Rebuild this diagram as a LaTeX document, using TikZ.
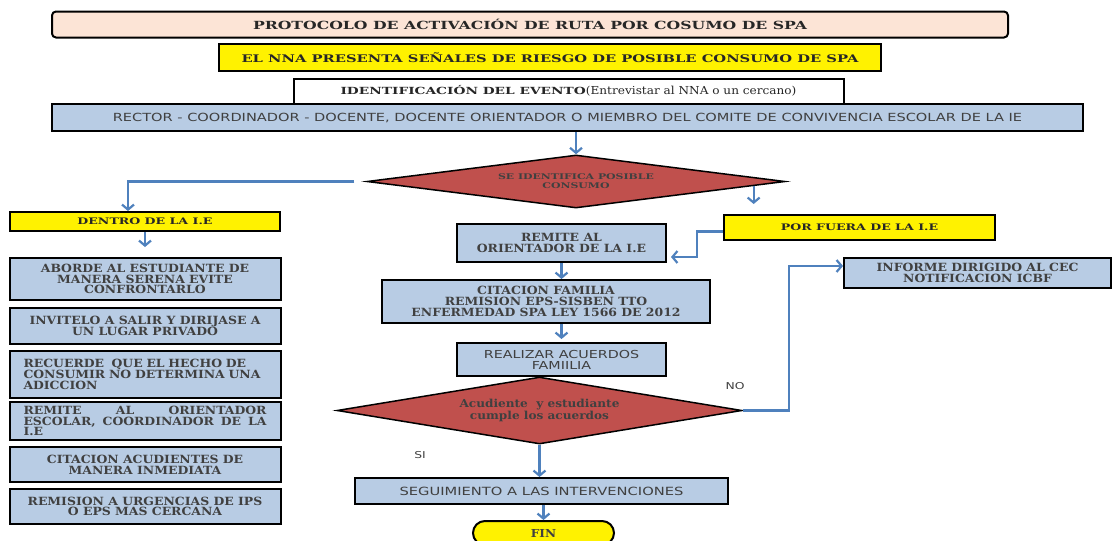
\documentclass[tikz,border=0pt]{standalone}
\usepackage{fontspec}
\newfontfamily\headfont{DejaVu Serif}[FakeStretch=1.4]
\newfontfamily\slabfont{DejaVu Serif}[FakeStretch=1.1]
\newfontfamily\verdfont{DejaVu Sans}[FakeStretch=1.3]
\usetikzlibrary{shapes.geometric,arrows.meta,calc}
\definecolor{boxblue}{HTML}{B8CCE4}
\definecolor{lineblue}{HTML}{4F81BD}
\definecolor{diared}{HTML}{C0504D}
\definecolor{peach}{HTML}{FCE4D6}
\definecolor{txtgray}{HTML}{404040}

\begin{document}
\begin{tikzpicture}[x=1pt,y=-1pt,
  frame/.style={draw=black,line width=2pt,inner sep=1pt,align=center,text=txtgray},
  bluebox/.style={frame,fill=boxblue,font=\slabfont\bfseries\fontsize{11.3}{10.7}\selectfont},
  yelbox/.style={frame,fill=yellow,text=black!85,font=\headfont\bfseries\fontsize{9}{10}\selectfont},
  decision/.style={diamond,draw=black,line width=1.5pt,fill=diared,inner sep=0pt,align=center},
  flow/.style={draw=lineblue,line width=2.2pt,-{Straight Barb[length=5pt,width=12pt]}},
  lbl/.style={font=\verdfont\fontsize{9.5}{10}\selectfont,text=txtgray}]
\useasboundingbox (0,0) rectangle (1117,541);

\node[frame,fill=peach,rounded corners=4pt,minimum width=956pt,minimum height=26pt,
  font=\headfont\bfseries\fontsize{11.2}{12}\selectfont,text=black!85] (titulo) at (530,24.5)
  {PROTOCOLO DE ACTIVACIÓN DE RUTA POR COSUMO DE SPA};
\node[frame,fill=yellow,minimum width=662pt,minimum height=27pt,
  font=\headfont\bfseries\fontsize{10.5}{12}\selectfont,text=black!85] (senales) at (550,57.5)
  {EL NNA PRESENTA SEÑALES DE RIESGO DE POSIBLE CONSUMO DE SPA};
\node[frame,fill=white,minimum width=550pt,minimum height=25pt,text=black!85] (ident) at (568.5,91)
  {{\headfont\bfseries\fontsize{9.8}{11}\selectfont IDENTIFICACIÓN DEL EVENTO}{\slabfont\fontsize{11}{11}\selectfont(Entrevistar al NNA o un cercano)}};
\node[frame,fill=boxblue,minimum width=1031pt,minimum height=27pt,
  font=\verdfont\fontsize{11.2}{12}\selectfont] (rector) at (567.5,117.5)
  {RECTOR - COORDINADOR - DOCENTE, DOCENTE ORIENTADOR O MIEMBRO DEL COMITE DE CONVIVENCIA ESCOLAR DE LA IE};

\node[decision,aspect=8,minimum width=418pt,minimum height=53pt,
  font=\headfont\bfseries\fontsize{7.8}{9}\selectfont,text=black!75] (identifica) at (576,181.5)
  {SE IDENTIFICA POSIBLE\\CONSUMO};

\node[yelbox,minimum width=270pt,minimum height=19pt] (dentro) at (145,221.5) {DENTRO DE LA I.E};
\node[bluebox,minimum width=271pt,minimum height=42pt] (aborde) at (145,279)
  {ABORDE AL ESTUDIANTE DE\\MANERA SERENA EVITE\\CONFRONTARLO};
\node[bluebox,minimum width=271pt,minimum height=36pt] (invitelo) at (145,326)
  {INVITELO A SALIR Y DIRIJASE A\\UN LUGAR PRIVADO};
\node[bluebox,minimum width=271pt,minimum height=47pt,align=left,text width=243pt] (recuerde) at (145,374.5)
  {RECUERDE \ QUE EL HECHO DE\\CONSUMIR NO DETERMINA UNA\\ADICCION};
\node[bluebox,minimum width=271pt,minimum height=38pt,align=justify,text width=243pt] (remiteesc) at (145,421)
  {REMITE AL ORIENTADOR\linebreak ESCOLAR, COORDINADOR DE LA\linebreak I.E};
\node[bluebox,minimum width=271pt,minimum height=35pt] (citaacu) at (145,464.5)
  {CITACION ACUDIENTES DE\\MANERA INMEDIATA};
\node[bluebox,minimum width=271pt,minimum height=35pt] (urgencias) at (145,506.5)
  {REMISION A URGENCIAS DE IPS\\O EPS MAS CERCANA};

\node[yelbox,minimum width=271pt,minimum height=25pt] (fuera) at (859.5,227.5) {POR FUERA DE LA I.E};
\node[bluebox,minimum width=209pt,minimum height=38pt] (remiteori) at (561.5,243)
  {REMITE AL\\ORIENTADOR DE LA I.E};
\node[bluebox,minimum width=328pt,minimum height=43pt] (citafam) at (546,301.5)
  {CITACION FAMILIA\\REMISION EPS-SISBEN TTO\\ENFERMEDAD SPA LEY 1566 DE 2012};
\node[bluebox,minimum width=209pt,minimum height=33pt,font=\verdfont\fontsize{11}{11}\selectfont] (acuerdos) at (561.5,359.5)
  {REALIZAR ACUERDOS\\FAMIILIA};
\node[decision,aspect=6,minimum width=405pt,minimum height=67pt,
  font=\slabfont\bfseries\fontsize{11}{11.5}\selectfont,text=black!75] (cumple) at (539.5,410.5)
  {Acudiente \ y estudiante\\cumple los acuerdos};
\node[bluebox,minimum width=373pt,minimum height=26pt,font=\verdfont\fontsize{11.3}{12}\selectfont] (seguimiento) at (541.5,491)
  {SEGUIMIENTO A LAS INTERVENCIONES};
\node[frame,fill=yellow,rounded corners=12pt,minimum width=141pt,minimum height=24pt,text depth=0pt,
  font=\slabfont\bfseries\fontsize{11}{11}\selectfont] (fin) at (543.5,533) {FIN};
\node[bluebox,minimum width=267pt,minimum height=30pt] (informe) at (977.5,273)
  {INFORME DIRIGIDO AL CEC\\NOTIFICACION ICBF};

\node[lbl] (no) at (735,386) {NO};
\node[lbl] (si) at (420,455) {SI};

\draw[flow] (rector.south -| identifica.north) -- (identifica.north);
\draw[flow,shorten <=12pt] (identifica.west) -| ([xshift=-17pt]dentro.north);
\draw[flow,shorten >=10pt] (dentro.south) -- (aborde.north);
\coordinate (derecha) at ($(identifica.east)!0.153!(identifica.south)$);
\draw[flow,shorten >=10pt] (derecha) -- (derecha |- fuera.north);
\draw[flow] ([yshift=-4pt]fuera.west) -- ++(-26,0) |- ([yshift=-14pt,xshift=4pt]remiteori.east);
\draw[flow] (remiteori.south) -- (remiteori.south |- citafam.north);
\draw[flow,shorten >=3pt] (citafam.south -| acuerdos.north) -- (acuerdos.north);
\draw[flow] (cumple.south) -- (cumple.south |- seguimiento.north);
\draw[flow] (seguimiento.south -| fin.north) -- (fin.north);
\draw[flow] (cumple.east) -- ++(46,0) |- ([yshift=7pt]informe.west);
\end{tikzpicture}
\end{document}
